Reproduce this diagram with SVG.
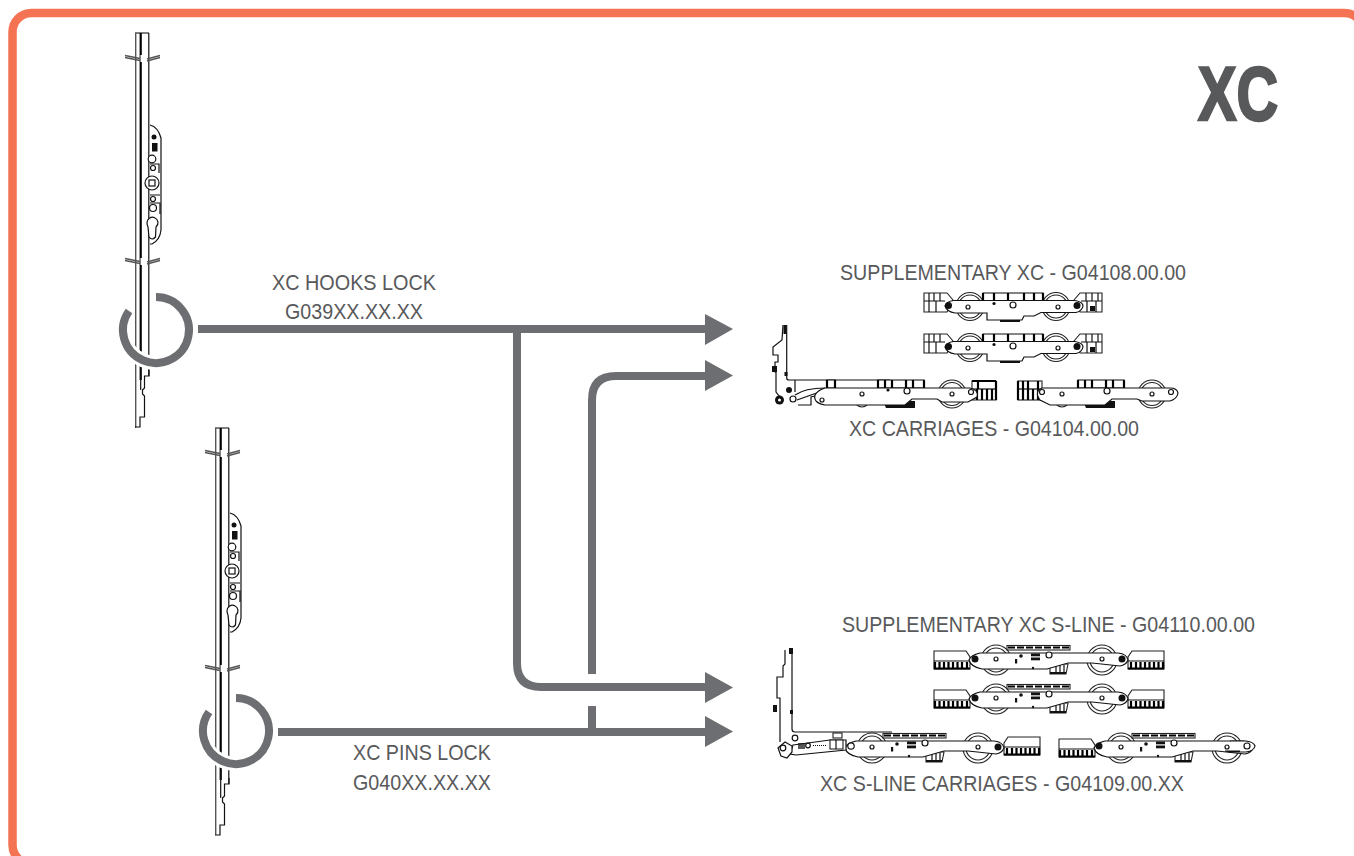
<svg xmlns="http://www.w3.org/2000/svg" width="1354" height="856" viewBox="0 0 1354 856">
<style>
.lbl{font-family:"Liberation Sans",Arial,sans-serif;font-size:22px;fill:#58595b}
.ttl{font-family:"Liberation Sans",Arial,sans-serif;font-size:76px;font-weight:bold;fill:#58595b;stroke:#58595b;stroke-width:2.5px}
.conn{fill:none;stroke:#6d6e71;stroke-width:8}
.ah{fill:#6d6e71}
.ring{fill:none;stroke:#6d6e71;stroke-width:8}
.halo{fill:none;stroke:#fff;stroke-width:14}
.thin{fill:none;stroke:#555;stroke-width:1.400}
.l{fill:none;stroke:#111;stroke-width:1.200}
.th{fill:none;stroke:#000;stroke-width:2.200}
.w{fill:#fff;stroke:#111;stroke-width:1.200}
.b{fill:#111;stroke:none}
.g{fill:#fff;stroke:#222;stroke-width:1.100}
</style>
<defs>
<g id="brk">
<path class="thin" stroke-width="1" d="M125,55.500L140,58.500M125,57.500L140,60.500M147,59L160,55.500M147,61L160,57.500"/>
<path d="M143,55V62" stroke="#fff" stroke-width="5"/>
</g>
<g id="plate">
<path class="w" stroke-width="1.500" d="M150,125Q158,127 161,138V230Q160,240 152,244H150"/>
<circle class="b" cx="154" cy="137" r="2.500"/>
<rect class="b" x="152" y="143" width="5.500" height="8.500"/>
<path class="l" d="M150,164H159V173M150,195H160M150,203H160V214"/>
<circle class="w" cx="152" cy="159" r="3.800" stroke-width="2.600"/>
<circle class="w" cx="153" cy="168" r="2.500" stroke-width="2"/>
<circle class="w" cx="152" cy="183" r="7" stroke-width="3.800"/>
<rect class="w" x="149" y="180" width="6" height="6" stroke-width="1.500"/>
<circle class="w" cx="153" cy="199" r="2.500" stroke-width="2"/>
<circle class="w" cx="153" cy="208" r="3.500" stroke-width="2.500"/>
<path class="w" stroke-width="2" d="M147,223A5.500,5.500 0 1 1 156,227L155.500,237Q152,241 149,237L148,227Q147,225 147,223Z"/>
</g>
<g id="low">
<path class="l" stroke-width="1.500" d="M149,370V376H144.500V388L142.500,390V394L144.500,396V417H140V427H135"/>
</g>
<g id="xcCore">
<g class="g">
<circle cx="970" cy="306.500" r="14"/><circle cx="1056" cy="306.500" r="14"/>
<circle cx="970" cy="306.500" r="11.500"/><circle cx="1056" cy="306.500" r="11.500"/>
<path d="M924,293H947L953,300L947,312H924Z"/>
<path d="M1102,293H1080L1074,300L1080,312H1102Z"/>
<rect x="983" y="293" width="60" height="8"/>
</g>
<path class="l" d="M924,301H945M1081,301H1102M929,293V301M934,293V301M940,293V301M1098,293V301M1092,293V301M1086,293V301M929,301V312M936,301V312M1096,301V312M1087,301V312"/>
<path class="th" stroke-width="1.800" d="M983,293V301M994,293V301M1008,293V301M1024,293V301M1034,293V301M1043,293V301"/>
<path class="b" d="M989,315H1020V322H1000V320H989Z"/>
<path class="w" d="M953,300.500H1075Q1083,302 1083,306Q1082,311 1076,312.500H1041L1034,316H1024L1022,320H987V313H955Q947,312 945,306Q946,302 953,300.500Z"/>
<path fill="#fff" d="M996,317H1012V318.500H996Z"/>
<g class="b"><circle cx="948.500" cy="305.500" r="3.500"/><circle cx="1077" cy="305.500" r="3.500"/><circle cx="994" cy="303.500" r="1.600"/></g>
<g class="w" stroke-width="2"><circle cx="968" cy="307" r="2"/><circle cx="1013" cy="305" r="3"/><circle cx="1058" cy="307" r="2"/></g>
<rect class="b" x="1090" y="306" width="5" height="5"/>
</g>
<g id="xcTop">
<rect class="g" x="878" y="380" width="46" height="8"/>
<path class="th" stroke-width="1.800" d="M878,380V388M885,380V388M892,380V388M906,380V388M913,380V388M924,380V388"/>
<circle class="g" cx="952" cy="394" r="14"/><circle class="g" cx="952" cy="394" r="11.500"/>
<ellipse class="g" cx="862" cy="398" rx="8" ry="9"/>
</g>
<g id="slCore">
<g class="g">
<circle cx="996" cy="660" r="15"/><circle cx="1102" cy="660" r="15"/>
<circle cx="996" cy="660" r="12"/><circle cx="1102" cy="660" r="12"/>
<rect x="1007" y="645.500" width="63" height="4.500"/>
<path d="M1050,664H1068L1066,674H1050Z"/>
</g>
<path class="th" stroke-dasharray="7 2" stroke-width="1.800" d="M1008,647.500H1070"/>
<path class="l" d="M1056,666V674M1060,665V674M1064,665V674"/>
<path class="b" d="M1050,672H1066V674H1050Z"/>
<path class="w" d="M980,653H1118Q1127,654 1128,660Q1126,665 1120,666L1092,663H1068L1047,669H982Q971,667 969,660Q971,655 980,653Z"/>
<g class="w" stroke-width="2"><circle cx="996" cy="659" r="2"/><circle cx="1049" cy="655" r="3"/><circle cx="1102" cy="659" r="2"/></g>
<g class="b"><circle cx="1021" cy="656" r="1.800"/><rect x="1015" y="659" width="2.200" height="4.500"/>
<rect x="1031" y="653.500" width="9" height="2.800"/><rect x="1031" y="657.500" width="9" height="2.800"/><circle cx="1033" cy="668" r="1.200"/></g>
</g>
<g id="slBlock">
<path class="g" d="M0,2H32L36,8V20H0Z"/>
<path class="l" d="M0,12H36"/>
<path class="th" stroke-width="1.400" d="M0,19.500H36M1,13V20M5.500,13V20M10,13V20M14.500,13V20M19,13V20M23.500,13V20M28,13V20M33,13V20"/>
</g>
</defs>

<rect x="12.500" y="13" width="1351" height="851" rx="19" fill="#fff" stroke="#f47353" stroke-width="8.500"/>

<g id="title"><text class="ttl" x="1198" y="120" textLength="80" lengthAdjust="spacingAndGlyphs">XC</text></g>

<g id="connectors">
<path class="conn" d="M198,329H706"/>
<path class="conn" d="M517,329V663Q517,687 541,687H706"/>
<path class="conn" d="M278,732H706"/>
<path class="conn" d="M592,732V706M592,674V400Q592,376 616,376H706"/>
<path class="ah" d="M705,314L733,329L705,345Z"/>
<path class="ah" d="M705,360L733,375.500L705,391Z"/>
<path class="ah" d="M705,672L733,687.500L705,703Z"/>
<path class="ah" d="M705,716L733,731.500L705,747Z"/>
</g>

<g id="lock-hooks">
<path class="thin" d="M135.700,33V428M135,33H149"/>
<path class="th" d="M140.700,33V380"/>
<path class="l" stroke-width="1.500" d="M148.800,33V376"/>
<use href="#brk"/>
<use href="#brk" y="203"/>
<use href="#plate"/>
<use href="#low"/>
<path class="l" d="M140.700,366V390"/>
<path class="halo" d="M156,297A33,33 0 1 1 129,311"/>
<path class="ring" d="M156,297A33,33 0 1 1 129,311"/>
</g>

<g id="lock-pins">
<path class="thin" d="M215.700,428V835M215,428H229"/>
<path class="th" d="M220.700,428V780"/>
<path class="l" stroke-width="1.500" d="M228.800,428V784"/>
<use href="#brk" x="80" y="395"/>
<use href="#brk" x="80" y="610"/>
<use href="#plate" x="80" y="388"/>
<use href="#low" x="80" y="408"/>
<path class="l" d="M220.700,769V798"/>
<path class="halo" d="M236,698A33,33 0 1 1 209,712"/>
<path class="ring" d="M236,698A33,33 0 1 1 209,712"/>
</g>

<g id="supp-xc">
<use href="#xcCore"/>
<use href="#xcCore" y="41"/>
</g>

<g id="xc-carriages">
<path class="l" d="M783,325L782,340L773,347V355H778V362H775V372H776V392L780,397M786.700,325V378Q786.700,380 789,380H890M795,380V392"/>
<rect class="b" x="783.500" y="325" width="3" height="9"/>
<rect class="b" x="772" y="366" width="5" height="6"/>
<rect class="b" x="784.500" y="372" width="3" height="4"/>
<use href="#xcTop"/>
<rect class="g" x="827" y="380" width="8" height="8"/>
<path class="th" d="M827,380V388M835,380V388"/>
<path class="g" d="M972,381H996V400H972Z"/>
<path class="l" d="M972,389H996"/>
<path class="th" stroke-width="1.500" d="M977,389V400M982,389V400M987,389V400M992,389V400M978,381V389M996,381V400M972,381H996"/>
<path class="b" d="M883,401H915V408H886Z"/>
<path class="l" d="M795,395Q805,388 825,388M798,405H811V397L815,396M825,390L797,400"/>
<path class="w" d="M825,388H970Q979,390 977,397L968,402H942L937,399H912L905,405H825Q813,403 815,395Q818,390 825,388Z"/>
<circle class="b" cx="789" cy="390" r="3"/>
<circle class="w" cx="793" cy="399" r="3" stroke-width="1.800"/>
<circle class="b" cx="779.500" cy="400" r="4.500"/>
<circle cx="779.500" cy="400" r="1.500" fill="#fff"/>
<g class="w" stroke-width="2"><circle cx="822" cy="400" r="2"/><circle cx="862" cy="394" r="2"/><circle cx="907" cy="391" r="3"/><circle cx="952" cy="394" r="2"/><circle cx="971" cy="392" r="2.500"/></g>
<circle class="b" cx="888" cy="390" r="1.600"/>
<use href="#xcTop" x="200"/>
<rect class="g" x="1018" y="381" width="24" height="19"/>
<path class="l" d="M1018,389H1042"/>
<path class="th" stroke-width="1.500" d="M1018,381V400M1023,381V400M1028,381V400M1033,389V400M1038,381V400"/>
<path class="b" d="M1083,401H1115V408H1086Z"/>
<path class="w" d="M1042,388H1170Q1177,388 1178,393Q1177,399 1170,401H1142L1137,399H1112L1105,405H1050L1040,400Q1034,392 1042,388Z"/>
<g class="w" stroke-width="2"><circle cx="1042" cy="392" r="2.500"/><circle cx="1062" cy="394" r="2"/><circle cx="1107" cy="391" r="3"/><circle cx="1152" cy="394" r="2"/><circle cx="1171" cy="392" r="2.500"/></g>
</g>

<g id="supp-sline">
<use href="#slBlock" x="934" y="649"/><use href="#slBlock" transform="translate(1164,649) scale(-1,1)"/>
<use href="#slCore"/>
<circle class="b" cx="975" cy="659" r="3.500"/><circle class="b" cx="1122" cy="659" r="3.500"/>
<g transform="translate(0,39)">
<use href="#slBlock" x="934" y="649"/><use href="#slBlock" transform="translate(1164,649) scale(-1,1)"/>
<use href="#slCore"/>
<circle class="b" cx="975" cy="659" r="3.500"/><circle class="b" cx="1122" cy="659" r="3.500"/>
</g>
</g>

<g id="sline-carriages">
<path class="l" d="M785,650V664L783,666V677H777V698H780V742M792,648V729Q792,732 795,732H892"/>
<rect class="b" x="789" y="648" width="4" height="6"/>
<rect class="b" x="773" y="705" width="4" height="7"/>
<rect class="b" x="790" y="710" width="3" height="4"/>
<use href="#slBlock" transform="translate(1040,735) scale(-1,1)"/>
<use href="#slCore" x="-124" y="88"/>
<circle class="b" cx="998" cy="747" r="3.500"/>
<rect class="g" x="833" y="733" width="9" height="5"/>
<path class="w" d="M793,745L830,740H846V750L796,755L790,754Z"/>
<rect class="g" x="830" y="740" width="13" height="9"/>
<path class="l" d="M836,740V749"/>
<circle class="w" cx="795" cy="738" r="2.800" stroke-width="1.800"/>
<circle class="w" cx="808" cy="745.500" r="2.300"/>
<path class="l" d="M813,745.500H827" stroke-dasharray="1 1" stroke-width="2.400"/>
<path class="b" d="M798,743H805V749H798Z" opacity=".7"/>
<circle class="w" cx="851" cy="746" r="3.200" stroke-width="2"/>
<path class="w" stroke-width="1.500" d="M778,748L785,742L792,746V752L787,758L781,756Z"/>
<circle class="w" cx="783" cy="748" r="2.800" stroke-width="1.800"/>
<use href="#slBlock" x="1059" y="737"/>
<use href="#slCore" x="125" y="88"/>
<path class="w" d="M1230,741H1246Q1254,742 1255,746Q1254,751 1246,752H1230L1225,751H1240" />
<circle class="b" cx="1099" cy="746" r="3.500"/>
<circle class="w" cx="1247" cy="746" r="3"/>
</g>

<g id="labels">
<text class="lbl" x="272" y="290" textLength="164" lengthAdjust="spacingAndGlyphs">XC HOOKS LOCK</text>
<text class="lbl" x="285" y="319" textLength="138" lengthAdjust="spacingAndGlyphs">G039XX.XX.XX</text>
<text class="lbl" x="353" y="760" textLength="138" lengthAdjust="spacingAndGlyphs">XC PINS LOCK</text>
<text class="lbl" x="353" y="790" textLength="138" lengthAdjust="spacingAndGlyphs">G040XX.XX.XX</text>
<text class="lbl" x="840" y="280" textLength="346" lengthAdjust="spacingAndGlyphs">SUPPLEMENTARY XC - G04108.00.00</text>
<text class="lbl" x="849" y="436" textLength="290" lengthAdjust="spacingAndGlyphs">XC CARRIAGES - G04104.00.00</text>
<text class="lbl" x="842" y="632" textLength="413" lengthAdjust="spacingAndGlyphs">SUPPLEMENTARY XC S-LINE - G04110.00.00</text>
<text class="lbl" x="820" y="791" textLength="364" lengthAdjust="spacingAndGlyphs">XC S-LINE CARRIAGES - G04109.00.XX</text>
</g>
</svg>
